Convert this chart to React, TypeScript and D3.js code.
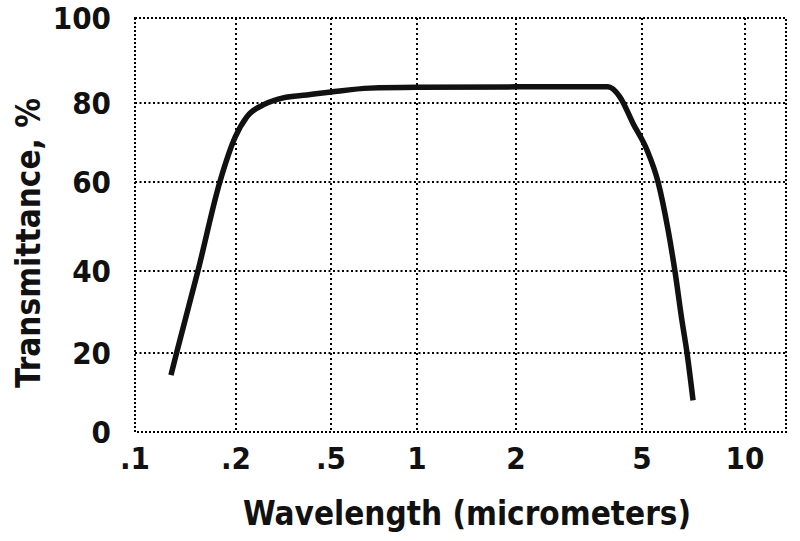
import { useEffect, useRef } from 'react';
import * as d3 from 'd3';

// tick values
const xTicks = [0.1, 0.2, 0.5, 1, 2, 5, 10];
const xTickLabels = ['.1', '.2', '.5', '1', '2', '5', '10'];
const yTicks = [0, 20, 40, 60, 80, 100];

// curve
const wavelength = [
  0.128, 0.133, 0.154, 0.179, 0.199, 0.222, 0.264, 0.315, 0.396, 0.5, 0.684, 1, 2, 3.9, 4.26, 4.68,
  5.17, 5.57, 5.96, 6.24, 6.54, 6.77, 7.05,
];
const transmittance = [
  14.4, 20, 40, 60, 71.4, 76.5, 79.7, 81.2, 81.9, 82.6, 83.5, 83.7, 83.8, 83.8, 81.4, 74.9, 68.1, 60,
  49.2, 40, 28, 20, 8,
];

const width = 800;
const height = 541;
const FONT = '"DejaVu Sans Condensed", "DejaVu Sans", sans-serif';

export default function App() {
  const svgRef = useRef<SVGSVGElement>(null);

  useEffect(() => {
    if (!svgRef.current) return;
    const svg = d3.select(svgRef.current);
    svg.selectAll('*').remove();

    // the original axis is hand-spaced, so the log scale is piecewise
    const xScale = d3
      .scaleLog()
      .domain([...xTicks, 13.2])
      .range([135, 236, 331, 417, 516, 642, 745, 786]);

    const yScale = d3
      .scaleLinear()
      .domain(yTicks)
      .range([432, 353, 271, 182, 103, 18]);

    const [x0, x1] = [xScale(0.1), xScale(13.2)];
    const [y0, y1] = [yScale(0), yScale(100)];

    svg.append('rect').attr('width', width).attr('height', height).attr('fill', '#fff');

    const grid = svg.append('g').attr('stroke', '#000').attr('stroke-width', 2);

    grid
      .selectAll('.vgrid')
      .data(xTicks.slice(1))
      .enter()
      .append('line')
      .attr('x1', (d) => xScale(d))
      .attr('x2', (d) => xScale(d))
      .attr('y1', y1)
      .attr('y2', y0)
      .attr('stroke-dasharray', '2 3');

    grid
      .selectAll('.hgrid')
      .data(yTicks.slice(1, -1))
      .enter()
      .append('line')
      .attr('x1', x0)
      .attr('x2', x1)
      .attr('y1', (d) => yScale(d))
      .attr('y2', (d) => yScale(d))
      .attr('stroke-dasharray', '2 2.5');

    // dotted frame
    grid
      .append('rect')
      .attr('x', x0)
      .attr('y', y1)
      .attr('width', x1 - x0)
      .attr('height', y0 - y1)
      .attr('fill', 'none')
      .attr('stroke-dasharray', '2 2');

    // curve
    const pts = wavelength.map((w, i) => [w, transmittance[i]] as [number, number]);
    const line = d3
      .line<[number, number]>()
      .x((d) => xScale(d[0]))
      .y((d) => yScale(d[1]))
      .curve(d3.curveMonotoneX);

    svg
      .append('path')
      .datum(pts)
      .attr('d', line)
      .attr('fill', 'none')
      .attr('stroke', '#111')
      .attr('stroke-width', 5.5)
      .attr('stroke-linejoin', 'round');

    // tick labels
    svg
      .selectAll('.xlabel')
      .data(xTicks)
      .enter()
      .append('text')
      .attr('x', (d) => xScale(d))
      .attr('y', 469)
      .attr('text-anchor', 'middle')
      .attr('font-family', FONT)
      .attr('font-weight', 'bold')
      .attr('font-size', 31)
      .attr('fill', '#111')
      .text((_d, i) => xTickLabels[i]);

    svg
      .selectAll('.ylabel')
      .data(yTicks)
      .enter()
      .append('text')
      .attr('x', 111)
      .attr('y', (d) => yScale(d))
      .attr('dy', '0.36em')
      .attr('text-anchor', 'end')
      .attr('font-family', FONT)
      .attr('font-weight', 'bold')
      .attr('font-size', 31)
      .attr('fill', '#111')
      .text((d) => String(d));

    // axis titles
    svg
      .append('text')
      .attr('x', 467)
      .attr('y', 525)
      .attr('text-anchor', 'middle')
      .attr('font-family', FONT)
      .attr('font-weight', 'bold')
      .attr('font-size', 33)
      .attr('fill', '#111')
      .text('Wavelength (micrometers)');

    svg
      .append('text')
      .attr('transform', 'translate(40,243) rotate(-90)')
      .attr('text-anchor', 'middle')
      .attr('font-family', FONT)
      .attr('font-weight', 'bold')
      .attr('font-size', 33)
      .attr('fill', '#111')
      .text('Transmittance, %');
  }, []);

  return (
    <svg
      ref={svgRef}
      width={width}
      height={height}
      style={{ position: 'absolute', left: 0, top: 0, display: 'block' }}
    />
  );
}
